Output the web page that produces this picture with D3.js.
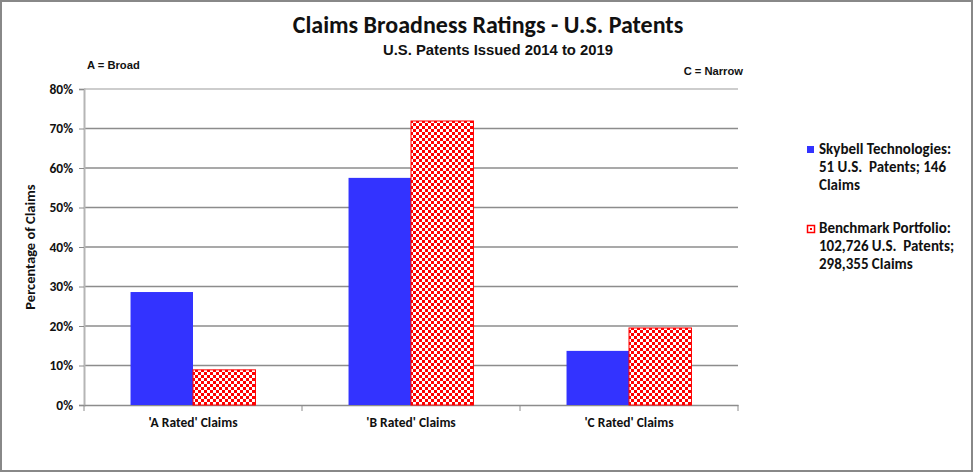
<!DOCTYPE html>
<html><head><meta charset="utf-8">
<script src="https://cdn.jsdelivr.net/npm/d3@7"></script>
<style>
body{margin:0;background:#fff;}
text{font-family:Carlito,"Liberation Sans Narrow","Liberation Sans",sans-serif;font-weight:bold;fill:#111;}
text.arial{font-family:"Liberation Sans",Arial,sans-serif;}
</style></head>
<body><svg id="c" width="975" height="474"></svg>
<script>
const categories = ["'A Rated' Claims", "'B Rated' Claims", "'C Rated' Claims"];
const seriesNames = ["Skybell", "Benchmark"];
const skybell = [28.6, 57.5, 13.7];
const benchmark = [8.9, 71.9, 19.5];
const yTicks = [0, 10, 20, 30, 40, 50, 60, 70, 80];
const legendLines = [
  ["Skybell Technologies:", "51 U.S.  Patents; 146", "Claims"],
  ["Benchmark Portfolio:", "102,726 U.S.  Patents;", "298,355 Claims"]
];

const svg = d3.select("#c");
const defs = svg.append("defs");
const pat = defs.append("pattern").attr("id","chk").attr("patternUnits","userSpaceOnUse")
  .attr("width",6).attr("height",6);
pat.append("rect").attr("width",6).attr("height",6).attr("fill","#fff");
pat.append("rect").attr("x",0).attr("y",0).attr("width",3).attr("height",3).attr("fill","#ff0000");
pat.append("rect").attr("x",3).attr("y",3).attr("width",3).attr("height",3).attr("fill","#ff0000");

// frame
svg.append("rect").attr("x",1).attr("y",1).attr("width",971).attr("height",470)
  .attr("fill","#fff").attr("stroke","#888").attr("stroke-width",2);

const x0 = d3.scaleBand().domain(categories).range([84, 738]).paddingInner(0).paddingOuter(0);
const x1 = d3.scaleBand().domain(seriesNames).range([0, x0.bandwidth()]).paddingOuter(0.745).paddingInner(0);
const y = d3.scaleLinear().domain([0, 80]).range([405, 89]);

// gridlines
svg.append("g").selectAll("line").data(yTicks.filter(d=>d>0)).join("line")
  .attr("x1",84).attr("x2",738).attr("y1",d=>y(d)).attr("y2",d=>y(d))
  .attr("stroke",d=>d===80?"#bdbdbd":"#8c8c8c").attr("stroke-width",1.3);

// y axis
const ya = svg.append("g").attr("transform","translate(84,0)")
  .call(d3.axisLeft(y).tickValues(yTicks).tickFormat(d=>d+"%").tickSize(5).tickPadding(6));
ya.select(".domain").attr("stroke","#b5b5b5").attr("stroke-width",2);
ya.selectAll(".tick line").attr("stroke","#8c8c8c");
ya.selectAll(".tick text").attr("font-size",13.5).attr("font-family",null).attr("fill","#111");

// x axis
const xa = svg.append("g").attr("transform","translate(0,405)")
  .call(d3.axisBottom(x0).tickSize(0).tickPadding(12));
xa.select(".domain").attr("stroke","#8c8c8c").attr("stroke-width",1.5);
xa.selectAll(".tick text").attr("font-size",13.5).attr("font-family",null).attr("fill","#111");
svg.append("g").selectAll("line").data([84, 84+x0.bandwidth(), 84+2*x0.bandwidth(), 738]).join("line")
  .attr("x1",d=>d).attr("x2",d=>d).attr("y1",405).attr("y2",411).attr("stroke","#8c8c8c");

// bars
const rows = categories.map((c,i)=>({c, vals:[{s:"Skybell",v:skybell[i]},{s:"Benchmark",v:benchmark[i]}]}));
const g = svg.append("g").selectAll("g").data(rows).join("g")
  .attr("transform",d=>`translate(${x0(d.c)},0)`);
g.selectAll("rect").data(d=>d.vals).join("rect")
  .attr("x",d=>x1(d.s)).attr("width",x1.bandwidth())
  .attr("y",d=>y(d.v)).attr("height",d=>405-y(d.v))
  .attr("fill",d=>d.s==="Skybell"?"#3333ff":"url(#chk)")
  .attr("stroke",d=>d.s==="Skybell"?"none":"#ff0000").attr("stroke-width",1);

// titles
svg.append("text").attr("x",488).attr("y",33).attr("text-anchor","middle").attr("font-size",24)
  .text("Claims Broadness Ratings - U.S. Patents");
svg.append("text").attr("class","arial").attr("x",383).attr("y",55).attr("font-size",14)
  .attr("textLength",230).attr("lengthAdjust","spacingAndGlyphs")
  .text("U.S. Patents Issued 2014 to 2019");
svg.append("text").attr("class","arial").attr("x",87).attr("y",69).attr("font-size",11.2)
  .text("A = Broad");
svg.append("text").attr("class","arial").attr("x",743).attr("y",75).attr("font-size",11.2)
  .attr("text-anchor","end").text("C = Narrow");
svg.append("text").attr("transform","translate(35,247) rotate(-90)").attr("text-anchor","middle")
  .attr("font-size",14.5).text("Percentage of Claims");

// legend
const leg = svg.append("g");
const ly = [154, 233];
legendLines.forEach((lines,i)=>{
  if(i===0){
    leg.append("rect").attr("x",807).attr("y",ly[i]-8).attr("width",7).attr("height",7).attr("fill","#3333ff");
  } else {
    leg.append("rect").attr("x",807.5).attr("y",ly[i]-7.5).attr("width",7).attr("height",7)
      .attr("fill","#fff").attr("stroke","#ff0000").attr("stroke-width",1.5);
    leg.append("rect").attr("x",810).attr("y",ly[i]-5).attr("width",2).attr("height",2).attr("fill","#ff0000");
  }
  lines.forEach((t,j)=>{
    leg.append("text").attr("x",819).attr("y",ly[i]+j*18).attr("font-size",15)
      .style("white-space","pre").text(t);
  });
});
</script></body></html>
